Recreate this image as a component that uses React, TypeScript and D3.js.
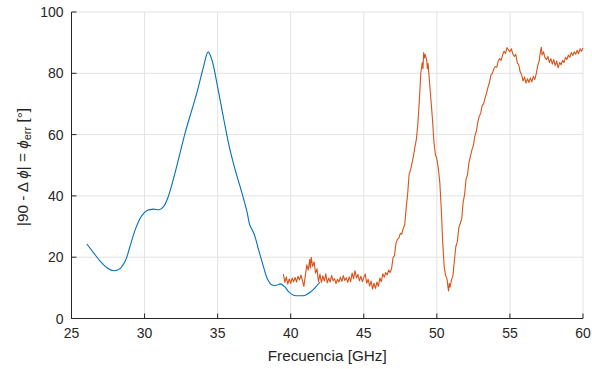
import React from "react";
import * as d3 from "d3";

const xTicks = [25, 30, 35, 40, 45, 50, 55, 60];
const yTicks = [0, 20, 40, 60, 80, 100];

const blueFreq = [26.05, 26.5, 27.0, 27.5, 27.9, 28.3, 28.7, 29.0, 29.4, 29.8, 30.2, 30.6, 31.0, 31.3, 31.6, 32.0, 32.4, 32.8, 33.2, 33.6, 34.0, 34.35, 34.6, 35.0, 35.4, 35.8, 36.2, 36.6, 37.0, 37.2, 37.5, 37.8, 38.1, 38.4, 38.7, 39.0, 39.3, 39.6, 39.9, 40.2, 40.6, 41.0, 41.4, 41.7, 42.0];
const blueErr = [24.3, 21.5, 18.5, 16.3, 15.6, 16.2, 19.0, 23.5, 29.5, 33.5, 35.3, 35.7, 35.5, 36.5, 39.5, 46.0, 53.5, 61.0, 67.5, 74.0, 81.5, 87.0, 84.5, 75.5, 65.5, 56.0, 48.5, 42.0, 35.0, 30.5, 27.5, 22.5, 17.5, 13.0, 11.0, 10.8, 11.3, 10.3, 8.5, 7.6, 7.4, 7.6, 8.8, 10.2, 11.9];

const orangeFreq = [39.5, 39.6, 39.7, 39.8, 39.9, 40.0, 40.1, 40.2, 40.3, 40.4, 40.5, 40.6, 40.7, 40.8, 40.9, 41.0, 41.1, 41.2, 41.3, 41.35, 41.4, 41.5, 41.6, 41.7, 41.8, 41.9, 42.0, 42.1, 42.2, 42.3, 42.4, 42.5, 42.6, 42.7, 42.8, 42.9, 43.0, 43.1, 43.2, 43.3, 43.4, 43.5, 43.6, 43.7, 43.8, 43.9, 44.0, 44.1, 44.2, 44.3, 44.4, 44.5, 44.6, 44.7, 44.8, 44.9, 45.0, 45.1, 45.2, 45.3, 45.4, 45.5, 45.6, 45.7, 45.8, 45.9, 46.0, 46.1, 46.2, 46.3, 46.4, 46.5, 46.6, 46.7, 46.8, 46.9, 47.0, 47.1, 47.2, 47.3, 47.4, 47.5, 47.6, 47.7, 47.8, 47.9, 48.0, 48.1, 48.2, 48.3, 48.4, 48.5, 48.6, 48.7, 48.8, 48.9, 49.0, 49.05, 49.1, 49.15, 49.2, 49.3, 49.35, 49.4, 49.5, 49.6, 49.7, 49.8, 49.9, 50.0, 50.1, 50.2, 50.3, 50.4, 50.5, 50.6, 50.7, 50.75, 50.8, 50.85, 50.9, 51.0, 51.1, 51.2, 51.3, 51.4, 51.5, 51.6, 51.7, 51.8, 51.9, 52.0, 52.1, 52.2, 52.3, 52.4, 52.5, 52.6, 52.7, 52.8, 52.9, 53.0, 53.1, 53.2, 53.3, 53.4, 53.5, 53.6, 53.7, 53.8, 53.9, 54.0, 54.1, 54.2, 54.3, 54.4, 54.5, 54.6, 54.7, 54.8, 54.9, 55.0, 55.1, 55.2, 55.3, 55.4, 55.5, 55.6, 55.7, 55.8, 55.9, 56.0, 56.1, 56.2, 56.3, 56.4, 56.5, 56.6, 56.7, 56.8, 56.9, 57.0, 57.1, 57.15, 57.2, 57.3, 57.4, 57.5, 57.6, 57.7, 57.8, 57.9, 58.0, 58.1, 58.2, 58.3, 58.4, 58.5, 58.6, 58.7, 58.8, 58.9, 59.0, 59.1, 59.2, 59.3, 59.4, 59.5, 59.6, 59.7, 59.8, 59.9, 60.0];
const orangeErr = [14.5, 11.8, 13.6, 11.2, 12.9, 11.5, 13.2, 12.0, 13.4, 11.9, 13.8, 12.6, 14.2, 12.4, 10.5, 14.0, 17.5, 15.8, 19.2, 16.5, 20.0, 17.0, 18.5, 14.8, 16.2, 12.0, 14.5, 11.8, 13.9, 12.2, 14.6, 11.6, 13.2, 11.9, 14.1, 12.3, 13.0, 11.4, 12.8, 11.9, 13.5, 12.1, 14.0, 12.4, 13.3, 11.8, 13.6, 12.0, 14.8, 13.0, 15.6, 13.2, 14.4, 12.3, 13.8, 12.0, 13.4, 14.5, 11.5, 12.8, 10.6, 12.2, 9.6, 11.5, 9.8, 11.9, 10.5, 13.2, 12.0, 14.6, 13.5, 15.0, 14.2, 15.8, 15.0, 16.2, 19.8, 20.5, 24.5, 25.8, 26.2, 27.8, 27.5, 29.4, 30.5, 36.0, 40.5, 47.0, 48.5, 50.8, 53.0, 56.0, 58.5, 63.5, 71.0, 80.0, 83.5, 81.5, 86.8, 85.0, 86.2, 84.5, 81.5, 83.2, 77.0, 71.0, 65.0, 57.5, 53.5, 52.0, 49.0, 44.5, 36.0, 25.0, 17.0, 14.0, 12.8, 10.5, 9.0, 11.5, 10.2, 12.5, 14.0, 19.0, 23.5, 25.0, 29.5, 31.0, 32.5, 38.0, 40.5, 45.5, 47.0, 51.0, 53.0, 55.0, 56.5, 59.5, 61.0, 64.0, 66.0, 67.0, 69.5, 70.0, 72.0, 73.5, 75.5, 77.0, 79.5, 80.0, 81.5, 82.2, 82.0, 84.0, 84.8, 84.2, 86.0, 87.2, 86.5, 88.4, 87.6, 87.0, 88.0, 86.3, 85.5, 86.2, 83.5, 82.8, 80.5, 79.5, 77.5, 78.8, 76.8, 78.2, 77.0, 78.5, 77.2, 79.0, 78.0, 79.8, 82.5, 84.0, 87.5, 88.5, 86.0, 87.0, 85.0, 84.5, 85.5, 83.5, 84.8, 83.0, 84.5, 82.5, 84.0, 81.8, 83.5, 82.8, 84.2, 83.5, 85.2, 84.5, 86.0, 85.2, 86.8, 85.8, 87.0, 86.2, 87.5, 86.4, 88.0, 87.2, 88.3];

const W = 592;
const H = 369;
const FONT = "'Liberation Sans', Arial, Helvetica, sans-serif";
const AX = "#262626";
const GRID = "#e3e3e3";

export default function App() {
  const x = d3.scaleLinear().domain([25, 60]).range([71.5, 583]);
  const y = d3.scaleLinear().domain([0, 100]).range([318.5, 12]);

  const blueData: [number, number][] = blueFreq.map((f, i) => [f, blueErr[i]]);
  const orangeData: [number, number][] = orangeFreq.map((f, i) => [f, orangeErr[i]]);

  const blueLine = d3
    .line<[number, number]>()
    .x((d) => x(d[0]))
    .y((d) => y(d[1]))
    .curve(d3.curveCatmullRom.alpha(0.5));
  const orangeLine = d3
    .line<[number, number]>()
    .x((d) => x(d[0]))
    .y((d) => y(d[1]));

  const x0 = x(25);
  const x1 = x(60);
  const y0 = y(0);
  const y1 = y(100);

  return (
    <svg
      width={W}
      height={H}
      style={{ position: "absolute", left: 0, top: 0, background: "#fff" }}
    >
      {xTicks.map((t) => (
        <line key={"gx" + t} x1={x(t)} x2={x(t)} y1={y0} y2={y1} stroke={GRID} strokeWidth={1} />
      ))}
      {yTicks.map((t) => (
        <line key={"gy" + t} x1={x0} x2={x1} y1={y(t)} y2={y(t)} stroke={GRID} strokeWidth={1} />
      ))}

      <path d={blueLine(blueData) || ""} fill="none" stroke="#0072BD" strokeWidth={1.1} />
      <path d={orangeLine(orangeData) || ""} fill="none" stroke="#D95319" strokeWidth={1.1} strokeLinejoin="round" />

      <line x1={x0} x2={x1} y1={y0} y2={y0} stroke={AX} strokeWidth={1} />
      <line x1={x0} x2={x0} y1={y0} y2={y1} stroke={AX} strokeWidth={1} />
      {xTicks.map((t) => (
        <line key={"tx" + t} x1={x(t)} x2={x(t)} y1={y0} y2={y0 - 5} stroke={AX} strokeWidth={1} />
      ))}
      {yTicks.map((t) => (
        <line key={"ty" + t} x1={x0} x2={x0 + 5} y1={y(t)} y2={y(t)} stroke={AX} strokeWidth={1} />
      ))}

      {xTicks.map((t) => (
        <text
          key={"lx" + t}
          x={x(t)}
          y={y0 + 19.5}
          textAnchor="middle"
          fontFamily={FONT}
          fontSize={14}
          fill={AX}
        >
          {t}
        </text>
      ))}
      {yTicks.map((t) => (
        <text
          key={"ly" + t}
          x={x0 - 8}
          y={y(t) + 5}
          textAnchor="end"
          fontFamily={FONT}
          fontSize={14}
          fill={AX}
        >
          {t}
        </text>
      ))}

      <text
        x={(x0 + x1) / 2}
        y={361}
        textAnchor="middle"
        fontFamily={FONT}
        fontSize={15.3}
        fill={AX}
      >
        Frecuencia [GHz]
      </text>
      <text
        transform={`translate(28, 167) rotate(-90)`}
        textAnchor="middle"
        fontFamily={FONT}
        fontSize={15.3}
        fill={AX}
      >
        <tspan>|90 - Δ </tspan>
        <tspan fontStyle="italic">ϕ</tspan>
        <tspan>| = </tspan>
        <tspan fontStyle="italic">ϕ</tspan>
        <tspan fontSize={11} dy={3}>err</tspan>
        <tspan dy={-3}> [°]</tspan>
      </text>
    </svg>
  );
}
